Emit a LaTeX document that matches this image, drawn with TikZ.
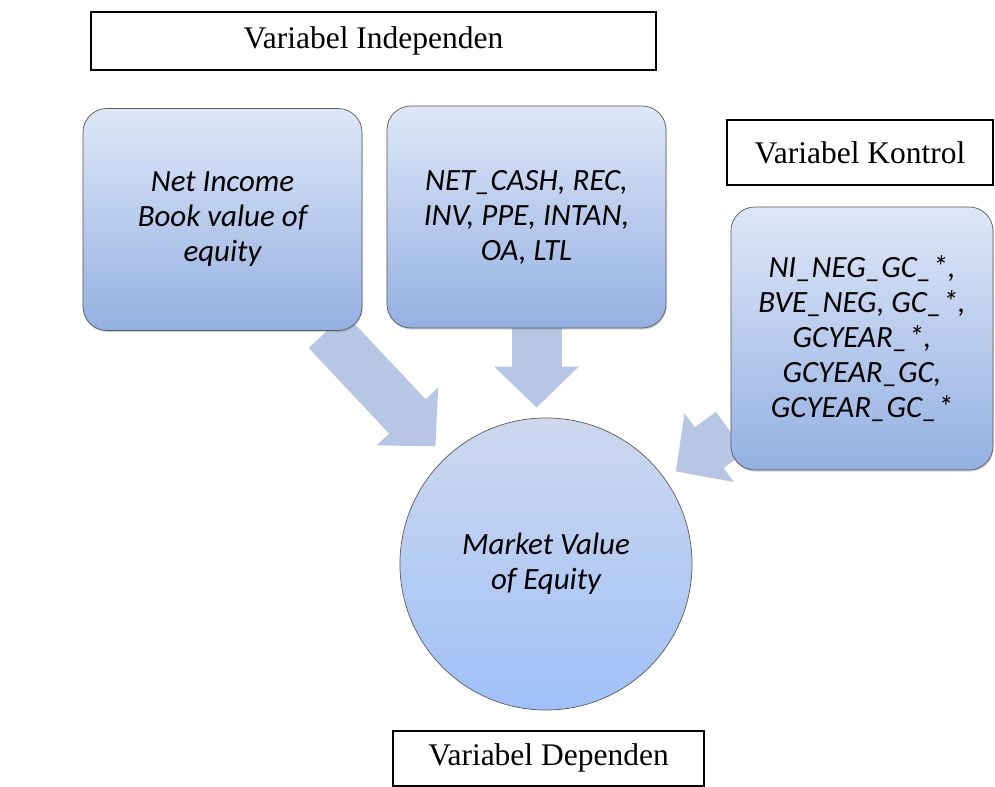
\documentclass[tikz,border=0pt]{standalone}
\usepackage{fontspec}
\setmainfont{Liberation Serif}
\newfontfamily\calibrifont{Carlito}
\usetikzlibrary{arrows.meta,backgrounds,shadows}

\definecolor{boxtop}{RGB}{222,231,248}
\definecolor{boxbottom}{RGB}{148,176,226}
\definecolor{circtop}{RGB}{205,216,238}
\definecolor{circbottom}{RGB}{160,192,248}
\definecolor{arrowblue}{RGB}{182,198,228}
\definecolor{edgegray}{RGB}{90,90,90}

\begin{document}
\begin{tikzpicture}[
  x=0.025cm,
  y=-0.025cm,
]

  \tikzstyle{labelbox}=[draw,rectangle,fill=white,line width=0.9pt,inner sep=0pt,font=\fontsize{22.4}{26}\selectfont]
  \tikzstyle{itembox}=[draw=edgegray,rectangle,rounded corners=0.6cm,top color=boxtop,bottom color=boxbottom,line width=0.5pt,minimum width=6.975cm,minimum height=5.55cm,align=center,font=\calibrifont\itshape\fontsize{22}{24.9}\selectfont,drop shadow={opacity=0.35,shadow xshift=0.5pt,shadow yshift=-1.2pt}]
  \tikzstyle{targetnode}=[draw=edgegray,circle,top color=circtop,bottom color=circbottom,line width=0.5pt,minimum size=7.3cm,inner sep=0pt,align=center,font=\calibrifont\itshape\fontsize{22}{24.9}\selectfont]
  \tikzstyle{bigarrow}=[draw=arrowblue,line width=1.25cm,-{Triangle[length=1.025cm,width=2.05cm]}]

  \useasboundingbox (0,0) rectangle (995,787);

  % nodes
  \node[labelbox,minimum width=14.125cm,minimum height=1.45cm] (indep) at (373.5,41) {Variabel Independen};

  \node[itembox] (netinc) at (222.5,219.5) {Net Income\\Book value of\\equity};
  \node[itembox] (assets) at (526.5,217) {NET\_CASH, REC,\\INV, PPE, INTAN,\\OA, LTL};

  \node[labelbox,minimum width=6.65cm,minimum height=1.625cm] (kontrol) at (860,152.5) {Variabel Kontrol};
  \node[itembox,minimum width=6.55cm,minimum height=6.575cm] (dummies) at (862,338.5) {NI\_NEG\_GC\_*,\\BVE\_NEG, GC\_*,\\GCYEAR\_*,\\GCYEAR\_GC,\\GCYEAR\_GC\_*};

  \node[targetnode] (mve) at (546,564) {Market Value\\of Equity};
  \node[labelbox,minimum width=7.775cm,minimum height=1.375cm,text height=1.2em,text depth=0.22em] (depen) at (548.5,758.5) {Variabel Dependen};

  % arrows
  \begin{scope}[on background layer]
    \draw[bigarrow,shorten >=0.375cm] (netinc) -- (mve);
    \draw[bigarrow,shorten >=0.25cm] ([xshift=0.25cm]assets.south) -- ([xshift=0.25cm]assets.south |- mve.north);
    \draw[bigarrow,shorten >=0.325cm] (dummies) -- (mve);
  \end{scope}

\end{tikzpicture}
\end{document}
